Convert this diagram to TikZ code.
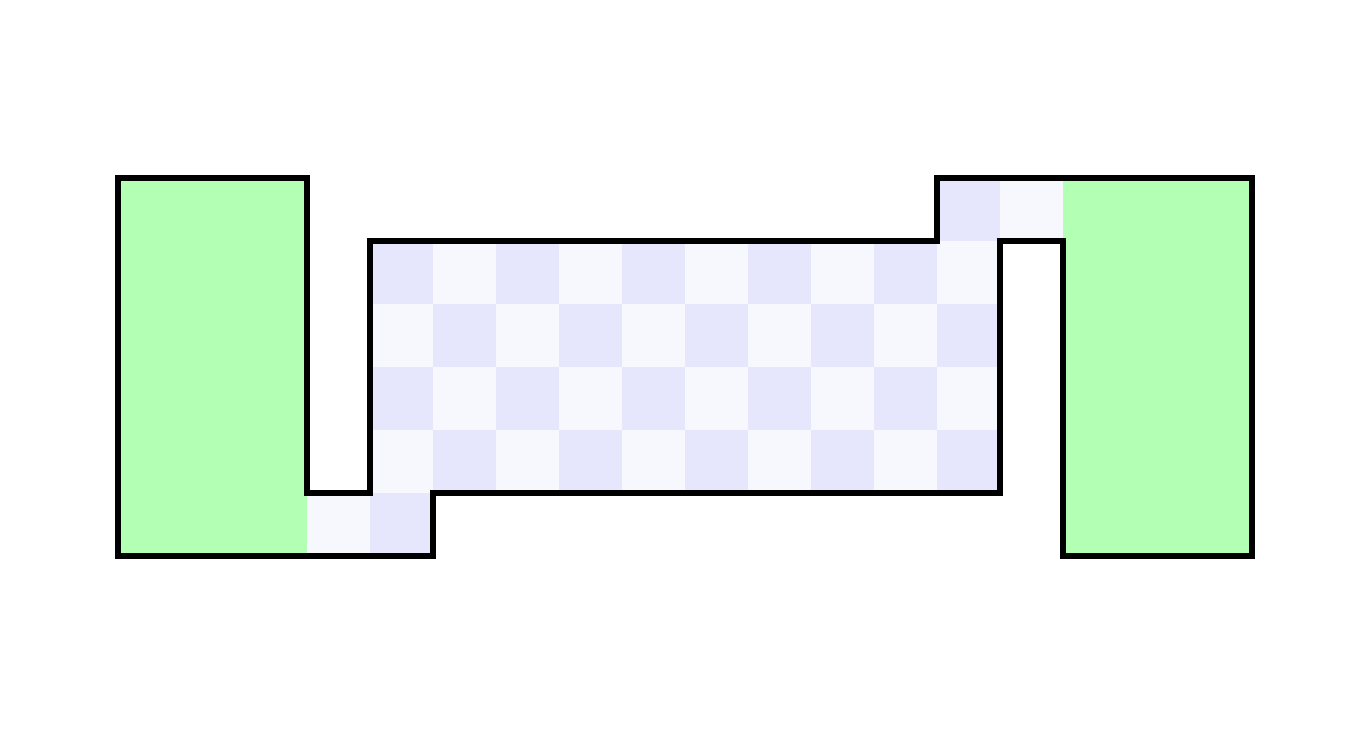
\documentclass[tikz,border=0pt]{standalone}
\usepackage{xcolor}
\usepackage{tikz}
\definecolor{padgreen}{HTML}{B3FFB3}
\definecolor{checkdark}{HTML}{E6E6FC}
\definecolor{checklight}{HTML}{F7F7FE}
\newcommand{\checkcell}[2]{%
  \pgfmathtruncatemacro{\cellodd}{mod(#1+#2,2)}%
  \ifnum\cellodd=1 \fill[checkdark] (#1,5-#2) rectangle ++(1,1);%
  \else \fill[checklight] (#1,5-#2) rectangle ++(1,1);\fi}

\begin{document}
\begin{tikzpicture}[outline/.style={draw=black,line width=2.6pt,line join=miter}, pad/.style={fill=padgreen}]
\useasboundingbox (-1.873,-3.03) rectangle (19.62,8.825);
% pads
\fill[pad] (0,0) rectangle (3,6);
\fill[pad] (15,0) rectangle (18,6);
% checkerboard
\foreach \c in {4,...,13} {
  \foreach \r in {1,...,4} {\checkcell{\c}{\r}}
}
\foreach \c/\r in {3/5,4/5,13/0,14/0} {\checkcell{\c}{\r}}
% outline
\draw[outline] (0,6) -- (3,6) -- (3,1) -- (4,1) -- (4,5) -- (13,5) -- (13,6) -- (18,6) -- (18,0) -- (15,0) -- (15,5) -- (14,5) -- (14,1) -- (5,1) -- (5,0) -- (0,0) -- cycle;
\end{tikzpicture}
\end{document}
